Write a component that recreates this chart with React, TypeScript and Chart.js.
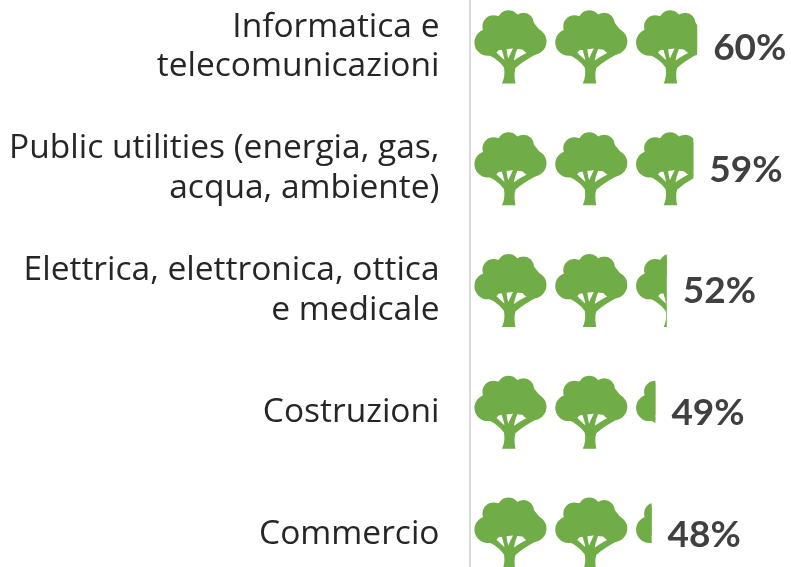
import React, { useEffect, useRef } from "react";
import { Chart, registerables } from "chart.js";

Chart.register(...registerables);

const categories: string[][] = [
  ["Informatica e", "telecomunicazioni"],
  ["Public utilities (energia, gas,", "acqua, ambiente)"],
  ["Elettrica, elettronica, ottica", "e medicale"],
  ["Costruzioni"],
  ["Commercio"],
];
const values: number[] = [60, 59, 52, 49, 48];

const GREEN = "#70AD47";
const VALUE_PER_TREE = 21.3;
const TREE_START = 1.3;
const AXIS_MAX = 84.74;

function treeParts(): Path2D[] {
  const canopy = new Path2D();
  const lobes: [number, number, number][] = [
    [13.3, 32, 13.3],
    [58.7, 31, 13.3],
    [19, 16, 11],
    [34, 11, 11],
    [49, 13, 10.5],
  ];
  for (const [x, y, r] of lobes) {
    canopy.moveTo(x + r, y);
    canopy.arc(x, y, r, 0, Math.PI * 2);
  }
  const fill = new Path2D("M9,21 L13,9 L27,5 L34,3 L42,4 L55,7 L67,22 L68,38 L52,39.5 L38,38 L22,40 L8,36 Z");
  const trunk = new Path2D(
    "M27.5,73 C30,68 30.5,62 29.5,57 C25,51 20,47 13,44 L21,41 C25,45 27,47 30,49.5 C29.5,46 28,42 27,38 L32,38 C32.5,42 33,46 34,48 C35,45 37,41 39,37 L43,38 C41,43 40,46 39.5,50 C45,46 52,42 58,40 L63,43 C55,47 47,52 41,57.5 C39.5,62 40,68 41,73 Z"
  );
  return [canopy, fill, trunk];
}

const pictogramPlugin = {
  id: "pictogram",
  afterDatasetsDraw(chart: any) {
    const { ctx } = chart;
    const xScale = chart.scales.x;
    const parts = treeParts();
    const meta = chart.getDatasetMeta(0);
    meta.data.forEach((bar: any, i: number) => {
      const top = bar.y - bar.height / 2;
      const k = bar.height / 73;
      ctx.save();
      ctx.beginPath();
      ctx.rect(bar.base, top - 2, bar.x - bar.base, bar.height + 4);
      ctx.clip();
      ctx.fillStyle = GREEN;
      for (let n = 0; TREE_START + n * VALUE_PER_TREE < values[i]; n++) {
        const left = xScale.getPixelForValue(TREE_START + n * VALUE_PER_TREE);
        ctx.save();
        ctx.translate(left, top);
        ctx.scale(k, k);
        parts.forEach((p) => ctx.fill(p));
        ctx.restore();
      }
      ctx.restore();

      ctx.save();
      ctx.fillStyle = "#404040";
      ctx.font = "bold 37px Lato";
      ctx.textAlign = "left";
      ctx.textBaseline = "middle";
      ctx.fillText(`${values[i]}%`, bar.x + 16, bar.y + 1);
      ctx.restore();
    });
  },
};

export default function App() {
  const ref = useRef<HTMLCanvasElement>(null);
  useEffect(() => {
    const chart = new Chart(ref.current!, {
      type: "bar",
      data: {
        labels: categories as any,
        datasets: [
          {
            data: values,
            backgroundColor: "rgba(112,173,71,0)",
            barPercentage: 0.6,
            categoryPercentage: 1,
          },
        ],
      },
      options: {
        indexAxis: "y",
        responsive: false,
        animation: false,
        plugins: { legend: { display: false }, tooltip: { enabled: false } },
        scales: {
          x: { display: false, min: 0, max: AXIS_MAX },
          y: {
            afterFit(scale: any) {
              scale.width = 469.5;
              scale.paddingTop = 0;
              scale.paddingBottom = 0;
            },
            grid: { display: false, drawTicks: false, tickLength: 0 },
            border: { display: true, color: "#D9D9D9", width: 2 },
            ticks: {
              autoSkip: false,
              padding: 30,
              color: "#262626",
              font: { family: "Open Sans", size: 33.5, lineHeight: 1.18 },
            },
          },
        },
      },
      plugins: [pictogramPlugin],
    } as any);
    return () => chart.destroy();
  }, []);
  return (
    <div style={{ position: "absolute", left: 0, top: 0, width: 791, height: 567, overflow: "hidden", background: "#fff" }}>
      <canvas ref={ref} width={791} height={609} style={{ display: "block", position: "absolute", left: 0, top: -14 }} />
    </div>
  );
}
